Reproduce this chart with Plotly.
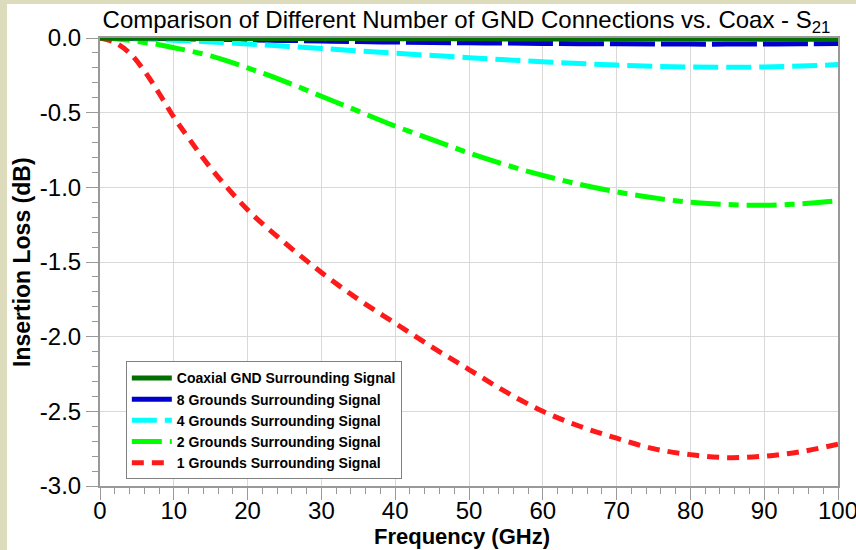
import plotly.graph_objects as go

freq = [0, 2, 4, 6, 8, 10, 12, 15, 20, 25, 30, 35, 40, 45, 50, 55, 60, 65, 70, 75, 80, 85, 90, 95, 100]
coax = [0, -0.001, -0.001, -0.002, -0.002, -0.002, -0.003, -0.003, -0.003, -0.004, -0.004, -0.004, -0.005,
        -0.005, -0.005, -0.006, -0.006, -0.006, -0.007, -0.007, -0.007, -0.007, -0.008, -0.008, -0.008]
gnd8 = [0, -0.001, -0.002, -0.003, -0.004, -0.005, -0.006, -0.008, -0.012, -0.016, -0.02, -0.024, -0.027,
        -0.030, -0.032, -0.034, -0.036, -0.038, -0.039, -0.040, -0.041, -0.041, -0.040, -0.039, -0.037]
gnd4 = [0, -0.002, -0.005, -0.008, -0.011, -0.015, -0.019, -0.026, -0.04, -0.055, -0.07, -0.086, -0.102,
        -0.117, -0.132, -0.146, -0.159, -0.171, -0.181, -0.189, -0.194, -0.196, -0.194, -0.188, -0.178]
gnd2 = [0, -0.005, -0.015, -0.03, -0.045, -0.065, -0.085, -0.12, -0.2, -0.29, -0.39, -0.49, -0.59,
        -0.68, -0.77, -0.85, -0.92, -0.98, -1.03, -1.07, -1.1, -1.115, -1.12, -1.11, -1.09]
gnd1 = [0, -0.03, -0.1, -0.22, -0.37, -0.53, -0.67, -0.87, -1.15, -1.37, -1.57, -1.75, -1.91,
        -2.07, -2.22, -2.37, -2.5, -2.6, -2.68, -2.75, -2.79, -2.81, -2.8, -2.77, -2.72]

x_ticks = [0, 10, 20, 30, 40, 50, 60, 70, 80, 90, 100]
y_ticks = [0.0, -0.5, -1.0, -1.5, -2.0, -2.5, -3.0]
y_tick_labels = ["0.0", "-0.5", "-1.0", "-1.5", "-2.0", "-2.5", "-3.0"]

names = ["Coaxial GND Surrounding Signal", "8 Grounds Surrounding Signal",
         "4 Grounds Surrounding Signal", "2 Grounds Surrounding Signal",
         "1 Grounds Surrounding Signal"]
series = [coax, gnd8, gnd4, gnd2, gnd1]
colors = ["#007000", "#0000cc", "#00ffff", "#00ff00", "#ff1a1a"]
dashes = ["solid", "45px,6px", "25px,8px", "30px,8px,10px,8px", "12px,8px"]
ranks = [1, 2, 3, 4, 5]
draw_order = [1, 2, 3, 4, 0]

FONT = "Liberation Sans, Arial, sans-serif"

fig = go.Figure()
for i in draw_order:
    fig.add_trace(go.Scatter(x=freq, y=series[i], name="<b>" + names[i] + "</b>", mode="lines",
                             legendrank=ranks[i],
                             line=dict(color=colors[i], width=5, dash=dashes[i], shape="spline")))

axis_common = dict(showline=True, linecolor="#999999", linewidth=2, mirror=True,
                   ticks="outside", ticklen=12, tickcolor="#999999", tickwidth=1,
                   showgrid=True, gridcolor="#d9d9d9", gridwidth=1, zeroline=False,
                   automargin=False, ticklabeloverflow="allow",
                   tickfont=dict(family=FONT, size=24, color="black"))

fig.update_layout(
    width=856, height=550,
    margin=dict(l=100, r=18, t=38, b=64),
    paper_bgcolor="white", plot_bgcolor="white",
    title=dict(text="Comparison of Different Number of GND Connections vs. Coax - S<sub>21</sub>",
               x=0.545, xanchor="center", y=0.965, yanchor="middle",
               font=dict(family=FONT, size=24, color="black")),
    xaxis=dict(range=[0, 100], tickvals=x_ticks, ticktext=[str(v) for v in x_ticks],
               minor=dict(dtick=2, ticks="outside", ticklen=6, tickcolor="#999999", showgrid=False),
               ticklabelstandoff=-10,
               **axis_common),
    yaxis=dict(range=[-3.0, 0.0], tickvals=y_ticks, ticktext=y_tick_labels,
               minor=dict(dtick=0.1, ticks="outside", ticklen=6, tickcolor="#999999", showgrid=False),
               **axis_common),
    legend=dict(x=0.035, y=0.1465, xanchor="left", yanchor="middle",
                bgcolor="white", bordercolor="#808080", borderwidth=1,
                font=dict(family=FONT, size=14, color="black"),
                tracegroupgap=0, itemwidth=40, traceorder="normal"),
    showlegend=True,
    annotations=[
        dict(text="<b>Frequency (GHz)</b>", xref="paper", yref="paper",
             x=(462 - 100) / 738, y=-(536 - 486) / 448, xanchor="center", yanchor="middle",
             showarrow=False, font=dict(family=FONT, size=22, color="black")),
        dict(text="<b>Insertion Loss (dB)</b>", xref="paper", yref="paper",
             x=-(100 - 22) / 738, y=(486 - 262) / 448, xanchor="center", yanchor="middle",
             textangle=-90, showarrow=False, font=dict(family=FONT, size=23, color="black")),
    ],
    shapes=[
        dict(type="rect", xref="paper", yref="paper", x0=-0.1355, x1=-0.1260, y0=-0.15, y1=1.09,
             fillcolor="#dcdcbc", line=dict(width=0), layer="below"),
        dict(type="rect", xref="paper", yref="paper", x0=-0.1355, x1=1.03, y0=1.0759, y1=1.09,
             fillcolor="#dcdcbc", line=dict(width=0), layer="below"),
    ],
)

fig.write_html("out.html")
